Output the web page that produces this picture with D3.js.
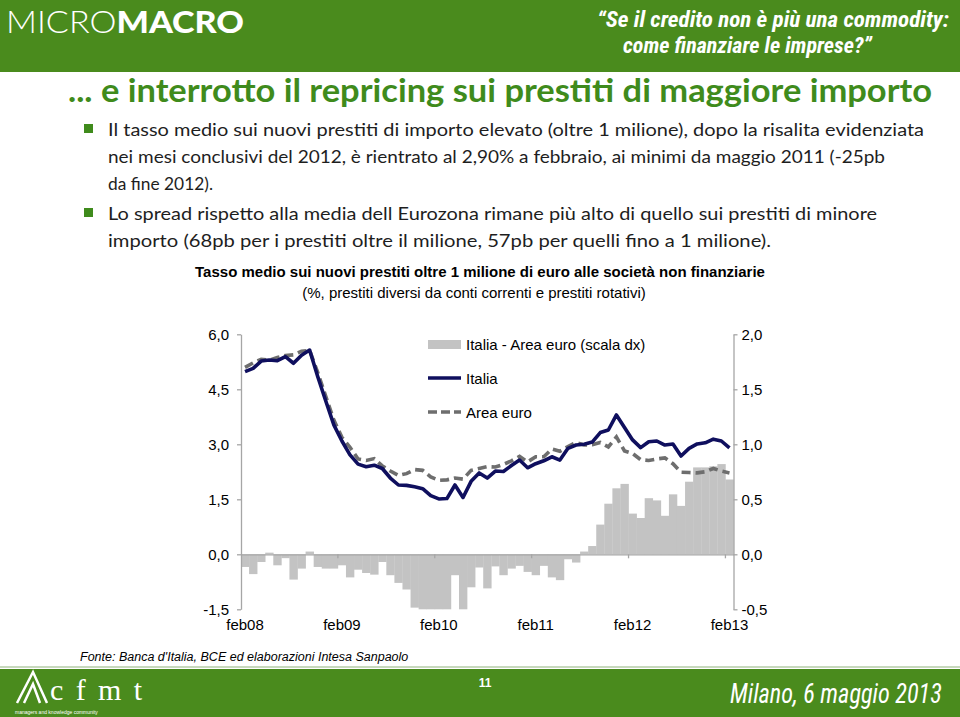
<!DOCTYPE html>
<html><head><meta charset="utf-8">
<script src="https://cdn.jsdelivr.net/npm/d3@7"></script>
<style>body{margin:0;background:#fff}svg{display:block}</style>
</head><body>
<svg id="c" width="960" height="717"></svg>
<script>
// ---------- DATA ----------
const months = [
 "feb08","mar08","apr08","mag08","giu08","lug08","ago08","set08","ott08","nov08","dic08",
 "gen09","feb09","mar09","apr09","mag09","giu09","lug09","ago09","set09","ott09","nov09","dic09",
 "gen10","feb10","mar10","apr10","mag10","giu10","lug10","ago10","set10","ott10","nov10","dic10",
 "gen11","feb11","mar11","apr11","mag11","giu11","lug11","ago11","set11","ott11","nov11","dic11",
 "gen12","feb12","mar12","apr12","mag12","giu12","lug12","ago12","set12","ott12","nov12","dic12",
 "gen13","feb13"];
const tickLabels = ["feb08","feb09","feb10","feb11","feb12","feb13"];
const italia = [4.98,5.07,5.27,5.30,5.28,5.39,5.21,5.43,5.57,4.85,4.18,3.53,3.09,2.71,2.46,
 2.39,2.43,2.34,2.08,1.89,1.88,1.84,1.79,1.60,1.51,1.52,1.89,1.55,1.99,2.22,2.08,
 2.27,2.26,2.42,2.57,2.36,2.47,2.55,2.66,2.57,2.89,2.98,3.00,3.06,3.32,3.39,3.80,
 3.46,3.12,2.91,3.07,3.09,2.98,3.01,2.68,2.89,3.01,3.04,3.14,3.09,2.90];
const areaEuro = [5.10,5.22,5.32,5.29,5.37,5.42,5.44,5.54,5.56,4.96,4.31,3.66,3.19,2.92,2.60,
 2.56,2.61,2.41,2.27,2.15,2.20,2.31,2.29,2.11,2.02,2.03,2.08,2.05,2.29,2.34,2.39,
 2.38,2.45,2.55,2.67,2.52,2.66,2.66,2.87,2.81,2.94,3.05,2.98,2.99,3.05,2.93,3.20,
 2.82,2.75,2.58,2.56,2.60,2.63,2.47,2.24,2.23,2.22,2.25,2.34,2.27,2.22];
const spread = [-0.115,-0.18,-0.07,0.015,-0.10,-0.035,-0.23,-0.13,0.025,-0.115,-0.13,-0.13,-0.10,-0.21,-0.14,
 -0.17,-0.185,-0.07,-0.19,-0.26,-0.32,-0.485,-0.50,-0.50,-0.50,-0.50,-0.19,-0.50,-0.30,-0.12,-0.31,
 -0.11,-0.19,-0.13,-0.105,-0.16,-0.19,-0.105,-0.21,-0.235,-0.045,-0.075,0.025,0.075,0.27,0.46,0.60,
 0.64,0.37,0.33,0.51,0.49,0.35,0.545,0.44,0.66,0.79,0.79,0.80,0.82,0.68];
const leftTicks = [6,4.5,3,1.5,0,-1.5];
const rightTicks = [2,1.5,1,0.5,0,-0.5];
const legendLabels = ["Italia - Area euro (scala dx)","Italia","Area euro"];
const bulletLines = [
 ["Il tasso medio sui nuovi prestiti di importo elevato (oltre 1 milione), dopo la risalita evidenziata",
  "nei mesi conclusivi del 2012, è rientrato al 2,90% a febbraio, ai minimi da maggio 2011 (-25pb",
  "da fine 2012)."],
 ["Lo spread rispetto alla media dell Eurozona rimane più alto di quello sui prestiti di minore",
  "importo (68pb per i prestiti oltre il milione, 57pb per quelli fino a 1 milione)."]
];

// ---------- STYLE ----------
const GREEN = "#4a8b1d", TGREEN = "#3f8b1c";
const NAVY = "#0f0f5e", DASH = "#6e6e6e", BAR = "#c3c3c3", AX = "#a6a6a6";
const svg = d3.select("#c");
const loc = d3.formatLocale({decimal:",",thousands:".",grouping:[3],currency:["€",""],minus:"-"});
const fmt = loc.format(".1f");
const narrow = "'Liberation Sans Narrow','Roboto Condensed',Roboto,sans-serif";

// ---------- HEADER ----------
svg.append("rect").attr("x",0).attr("y",0).attr("width",960).attr("height",72).attr("fill",GREEN);
const mm = svg.append("text").attr("x",6).attr("y",33).attr("fill","#fff")
  .style("font-family","Lato, 'Open Sans', sans-serif").style("font-size","31px")
  .attr("textLength",238).attr("lengthAdjust","spacingAndGlyphs");
mm.append("tspan").style("font-weight","300").text("MICRO");
mm.append("tspan").style("font-weight","900").text("MACRO");
svg.append("text").attr("x",597).attr("y",27).attr("fill","#fff")
  .style("font-family",narrow)
  .style("font-size","22px").style("font-style","italic").style("font-weight","bold")
  .attr("textLength",352).attr("lengthAdjust","spacingAndGlyphs")
  .text("\u201CSe il credito non è più una commodity:");
svg.append("text").attr("x",623).attr("y",53).attr("fill","#fff")
  .style("font-family",narrow)
  .style("font-size","22px").style("font-style","italic").style("font-weight","bold")
  .attr("textLength",249).attr("lengthAdjust","spacingAndGlyphs")
  .text("come finanziare le imprese?\u201D");

// ---------- TITLE & BULLETS ----------
svg.append("text").attr("x",68).attr("y",102).attr("fill",TGREEN)
  .style("font-family","Lato, 'Open Sans', sans-serif").style("font-size","32px").style("font-weight","bold")
  .attr("textLength",864).attr("lengthAdjust","spacingAndGlyphs")
  .text("... e interrotto il repricing sui prestiti di maggiore importo");
const lineW = [[816,777,105],[769,663]];
const baseY = [[136,163,190],[220,247]];
bulletLines.forEach((bl,i)=>{
  svg.append("rect").attr("x",84).attr("y",baseY[i][0]-12).attr("width",9).attr("height",9).attr("fill",TGREEN);
  bl.forEach((t,j)=>{
    svg.append("text").attr("x",108).attr("y",baseY[i][j]).attr("fill","#1e1e1e")
      .style("font-family","Lato, 'Open Sans', sans-serif").style("font-size","18px")
      .attr("textLength",lineW[i][j]).attr("lengthAdjust","spacingAndGlyphs").text(t);
  });
});

// ---------- CHART TITLE ----------
svg.append("text").attr("x",480).attr("y",277).attr("text-anchor","middle").attr("fill","#000")
  .style("font-family","'Liberation Sans',Arial,sans-serif").style("font-size","15px").style("font-weight","bold")
  .text("Tasso medio sui nuovi prestiti oltre 1 milione di euro alle società non finanziarie");
svg.append("text").attr("x",474).attr("y",298).attr("text-anchor","middle").attr("fill","#000")
  .style("font-family","'Liberation Sans',Arial,sans-serif").style("font-size","15px")
  .text("(%, prestiti diversi da conti correnti e prestiti rotativi)");

// ---------- SCALES ----------
const x = d3.scaleBand().domain(months).range([241,733.5]).padding(0);
const yL = d3.scaleLinear().domain([-1.5,6]).range([609.3,334.3]);
const yR = d3.scaleLinear().domain([-0.5,2]).range([609.3,334.3]);

// bars
svg.append("g").selectAll("rect").data(spread).join("rect")
  .attr("x",(d,i)=>x(months[i])).attr("width",x.bandwidth()+0.3)
  .attr("y",d=>Math.min(yR(d),yR(0))).attr("height",d=>Math.abs(yR(d)-yR(0)))
  .attr("fill",BAR);

// axes
const font = "'Liberation Sans',Arial,sans-serif";
const gL = svg.append("g").attr("transform","translate(241,0)")
  .call(d3.axisLeft(yL).tickValues(leftTicks).tickFormat(fmt).tickSize(4).tickPadding(8).tickSizeOuter(0));
const gR = svg.append("g").attr("transform","translate(733.5,0)")
  .call(d3.axisRight(yR).tickValues(rightTicks).tickFormat(fmt).tickSize(4).tickPadding(4).tickSizeOuter(0));
const gX = svg.append("g").attr("transform",`translate(0,${yL(0)})`)
  .call(d3.axisBottom(x).tickValues(tickLabels).tickSize(0).tickPadding(65).tickFormat(d=>d));
[gL,gR,gX].forEach(g=>{
  g.select(".domain").attr("stroke",AX).attr("stroke-width",1.3);
  g.selectAll(".tick line").attr("stroke",AX).attr("stroke-width",1.3);
  g.selectAll("text").style("font-family",font).style("font-size","15px").attr("fill","#000");
});
gX.selectAll(".tick text").attr("dy","0").attr("y",0).attr("transform","translate(0,76)");
// category tick marks at band boundaries every 12 months
svg.append("g").selectAll("line").data(tickLabels.slice(1)).join("line")
  .attr("x1",d=>x(d)).attr("x2",d=>x(d)).attr("y1",yL(0)).attr("y2",yL(0)+4)
  .attr("stroke",AX).attr("stroke-width",1.3);

// lines
const lineGen = d3.line().x((d,i)=>x(months[i])+x.bandwidth()/2).y(d=>yL(d));
svg.append("path").datum(areaEuro).attr("d",lineGen).attr("fill","none")
  .attr("stroke",DASH).attr("stroke-width",3.6).attr("stroke-dasharray","9,5");
svg.append("path").datum(italia).attr("d",lineGen).attr("fill","none")
  .attr("stroke",NAVY).attr("stroke-width",3.6).attr("stroke-linejoin","round");

// legend
const lg = svg.append("g");
lg.append("rect").attr("x",428).attr("y",340).attr("width",33).attr("height",9).attr("fill",BAR);
lg.append("line").attr("x1",428).attr("x2",461).attr("y1",378).attr("y2",378).attr("stroke",NAVY).attr("stroke-width",3.6);
lg.append("line").attr("x1",428).attr("x2",461).attr("y1",412).attr("y2",412).attr("stroke",DASH).attr("stroke-width",3.6).attr("stroke-dasharray","9,4");
legendLabels.forEach((t,i)=>{
  lg.append("text").attr("x",466).attr("y",[350,384,418][i]).attr("fill","#000")
    .style("font-family",font).style("font-size","15px").text(t);
});

// source
svg.append("text").attr("x",80).attr("y",661).attr("fill","#000")
  .style("font-family",font).style("font-size","12.5px").style("font-style","italic")
  .text("Fonte: Banca d'Italia, BCE ed elaborazioni Intesa Sanpaolo");

// ---------- FOOTER ----------
svg.append("line").attr("x1",0).attr("x2",960).attr("y1",667).attr("y2",667).attr("stroke","#8fb27a").attr("stroke-width",1);
svg.append("rect").attr("x",0).attr("y",669).attr("width",960).attr("height",48).attr("fill",GREEN);
svg.append("path").attr("d","M17,703 L33,672 L47,703 M24,703 L33,684 L40,703")
  .attr("fill","none").attr("stroke","#fff").attr("stroke-width",2.5);
svg.append("text").attr("x",50).attr("y",700).attr("fill","#fff")
  .style("font-family","'Liberation Serif','DejaVu Serif',serif").style("font-size","30px")
  .attr("textLength",92).attr("lengthAdjust","spacing").text("cfmt");
svg.append("text").attr("x",15).attr("y",714).attr("fill","#fff")
  .style("font-family",font).style("font-size","5px").text("managers and knowledge community");
svg.append("text").attr("x",485).attr("y",687).attr("text-anchor","middle").attr("fill","#fff")
  .style("font-family",font).style("font-size","12px").style("font-weight","bold").text("11");
const mil = svg.append("text").attr("x",0).attr("y",0).attr("fill","#fff")
  .style("font-family",narrow)
  .style("font-size","28px").style("font-style","italic").text("Milano, 6 maggio 2013");
const milW = mil.node().getComputedTextLength() || 260;
mil.attr("transform",`translate(730,703) scale(${(212/milW).toFixed(4)},1)`);
</script>
</body></html>
